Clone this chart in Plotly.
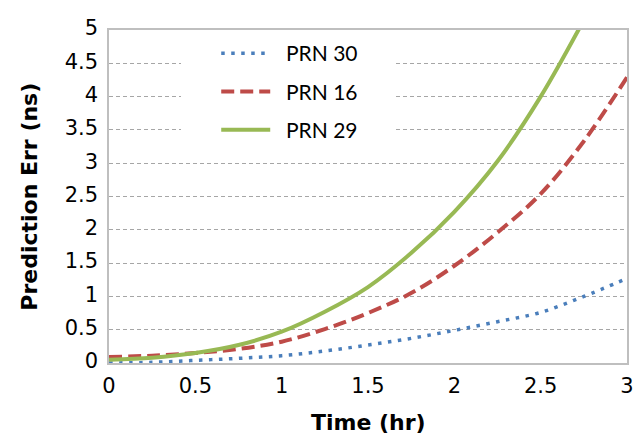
import plotly.graph_objects as go

time_hr = [0, 0.25, 0.5, 0.75, 1.0, 1.25, 1.5, 1.75, 2.0, 2.25, 2.5, 2.75, 3.0]
prn30 = [0.0, 0.01, 0.04, 0.07, 0.11, 0.18, 0.27, 0.37, 0.49, 0.62, 0.76, 1.0, 1.27]
prn16 = [0.09, 0.11, 0.15, 0.21, 0.32, 0.51, 0.75, 1.05, 1.46, 1.96, 2.54, 3.33, 4.29]
prn29_t = [0, 0.25, 0.5, 0.75, 1.0, 1.25, 1.5, 1.75, 2.0, 2.25, 2.5, 2.75]
prn29 = [0.05, 0.08, 0.15, 0.27, 0.47, 0.77, 1.14, 1.65, 2.27, 3.03, 4.0, 5.15]

y_ticks = [0, 0.5, 1, 1.5, 2, 2.5, 3, 3.5, 4, 4.5, 5]
x_ticks = [0, 0.5, 1, 1.5, 2, 2.5, 3]

fig = go.Figure()
fig.add_trace(go.Scatter(x=time_hr, y=prn30, name="  PRN 30", mode="lines",
                         line=dict(color="#4A7EBB", width=3.5, dash="3.5px,6.5px", shape="spline"),
                         legendgroup="a"))
fig.add_trace(go.Scatter(x=time_hr, y=prn16, name="  PRN 16", mode="lines",
                         line=dict(color="#BE4B48", width=4, dash="13px,6px", shape="spline"),
                         legendgroup="b"))
fig.add_trace(go.Scatter(x=prn29_t, y=prn29, name="  PRN 29", mode="lines",
                         line=dict(color="#98B954", width=4, shape="spline"),
                         legendgroup="c"))

tick_font = dict(family="DejaVu Sans", size=21, color="black")
fig.update_layout(
    width=636, height=433,
    margin=dict(l=101, r=17, t=8, b=78),
    paper_bgcolor="white", plot_bgcolor="white",
    showlegend=True,
    legend=dict(x=0.207, y=0.991, xanchor="left", yanchor="top",
                bgcolor="rgba(0,0,0,0)", borderwidth=0,
                font=dict(family="Lato", size=21, color="black"),
                itemwidth=49, traceorder="grouped", tracegroupgap=8),
    xaxis=dict(range=[0, 3], tickvals=x_ticks, ticktext=[str(v) for v in x_ticks],
               showgrid=False, zeroline=False,
               showline=True, mirror=True, linecolor="#BFBFBF", linewidth=1.5,
               ticks="", tickfont=tick_font, ticklabelstandoff=3),
    yaxis=dict(range=[0, 5], tickvals=y_ticks, ticktext=[f"{v:g}" for v in y_ticks],
               showgrid=True, gridcolor="#A6A6A6", gridwidth=1, griddash="4px,3px",
               zeroline=False,
               showline=True, mirror=True, linecolor="#BFBFBF", linewidth=1.5,
               ticks="", tickfont=tick_font, ticklabelstandoff=5,
               ticklabeloverflow="allow", ticklabelshift=-2),
    shapes=[
        dict(type="rect", xref="paper", yref="paper", x0=0.139, x1=0.554, y0=0.66, y1=0.975,
             fillcolor="white", line=dict(width=0), layer="above", opacity=1),
    ],
    annotations=[
        dict(text="<b>Time (hr)</b>", x=0.5, y=-0.179, xref="paper", yref="paper",
             xanchor="center", yanchor="middle", showarrow=False,
             font=dict(family="DejaVu Sans", size=22, color="black")),
        dict(text="<b>Prediction Err (ns)</b>", x=-0.154, y=0.5, xref="paper", yref="paper",
             xanchor="center", yanchor="middle", showarrow=False, textangle=-90,
             font=dict(family="DejaVu Sans", size=22, color="black")),
    ],
)

fig.write_html("out.html")
